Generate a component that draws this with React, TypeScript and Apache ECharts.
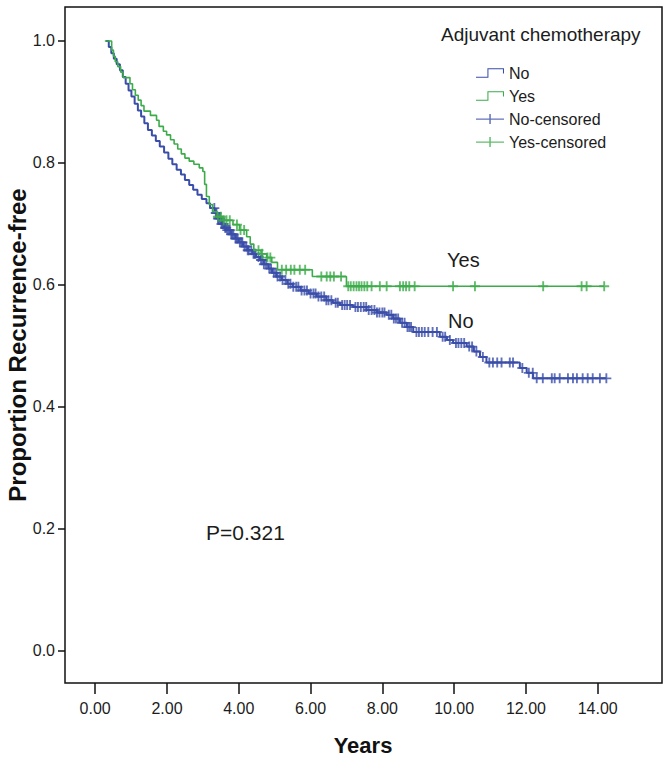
import React, { useEffect, useRef } from "react";
import * as echarts from "echarts";

const groupNames = ["No", "Yes"];
const legendTitle = "Adjuvant chemotherapy";
const xTickValues = [0, 2, 4, 6, 8, 10, 12, 14];
const yTickValues = [0, 0.2, 0.4, 0.6, 0.8, 1.0];
const xTitle = "Years";
const yTitle = "Proportion Recurrence-free";
const pValueText = "P=0.321";

// "No" group: event times (years) and survival after each event
const noTimes = [0.30, 0.38, 0.45, 0.52, 0.60, 0.69, 0.77, 0.85, 0.93, 1.01, 1.10, 1.19, 1.28, 1.37, 1.47, 1.58, 1.69, 1.80, 1.92, 2.04, 2.15, 2.27, 2.39, 2.50, 2.62, 2.73, 2.85, 2.97, 3.10, 3.20, 3.33, 3.42, 3.52, 3.60, 3.66, 3.78, 3.90, 4.00, 4.12, 4.25, 4.38, 4.48, 4.59, 4.70, 4.82, 4.93, 5.05, 5.20, 5.35, 5.50, 5.72, 5.95, 6.17, 6.44, 6.62, 6.82, 7.18, 7.56, 7.85, 8.12, 8.30, 8.49, 8.68, 8.86, 9.60, 9.80, 9.97, 10.35, 10.55, 10.72, 10.90, 11.83, 12.02, 12.20];
const noSurv = [1.000, 0.990, 0.980, 0.971, 0.962, 0.952, 0.941, 0.930, 0.919, 0.909, 0.897, 0.886, 0.876, 0.865, 0.854, 0.845, 0.836, 0.827, 0.817, 0.807, 0.798, 0.789, 0.781, 0.772, 0.764, 0.756, 0.748, 0.741, 0.734, 0.726, 0.718, 0.709, 0.700, 0.694, 0.690, 0.683, 0.676, 0.670, 0.663, 0.657, 0.651, 0.646, 0.641, 0.634, 0.627, 0.620, 0.614, 0.608, 0.602, 0.597, 0.591, 0.586, 0.581, 0.575, 0.571, 0.567, 0.564, 0.559, 0.555, 0.551, 0.545, 0.538, 0.531, 0.523, 0.515, 0.510, 0.505, 0.499, 0.491, 0.482, 0.473, 0.464, 0.456, 0.447];
const noCensorTimes = [3.32, 3.36, 3.38, 3.42, 3.45, 3.49, 3.52, 3.55, 3.58, 3.62, 3.65, 3.68, 3.72, 3.75, 3.79, 3.82, 3.85, 3.91, 3.94, 3.97, 4.03, 4.07, 4.10, 4.16, 4.21, 4.25, 4.28, 4.35, 4.41, 4.44, 4.47, 4.55, 4.62, 4.66, 4.70, 4.76, 4.85, 4.90, 4.98, 5.04, 5.08, 5.15, 5.22, 5.30, 5.38, 5.44, 5.52, 5.60, 5.66, 5.75, 5.83, 5.90, 6.00, 6.08, 6.14, 6.22, 6.30, 6.38, 6.44, 6.50, 6.58, 6.70, 6.76, 6.88, 6.95, 7.02, 7.10, 7.25, 7.32, 7.40, 7.48, 7.55, 7.62, 7.70, 7.78, 7.85, 7.92, 8.00, 8.06, 8.18, 8.25, 8.32, 8.38, 8.44, 8.55, 8.62, 8.70, 8.75, 8.80, 8.95, 9.02, 9.10, 9.18, 9.28, 9.40, 9.52, 9.68, 9.75, 9.88, 10.05, 10.12, 10.20, 10.28, 10.42, 10.50, 10.62, 10.80, 10.98, 11.08, 11.20, 11.32, 11.55, 11.64, 11.90, 12.08, 12.19, 12.30, 12.47, 12.72, 12.80, 12.94, 13.17, 13.31, 13.42, 13.58, 13.72, 13.86, 14.06, 14.24];

// "Yes" group
const yesTimes = [0.27, 0.46, 0.51, 0.56, 0.63, 0.71, 0.78, 0.97, 1.04, 1.12, 1.20, 1.28, 1.36, 1.54, 1.71, 1.78, 1.90, 1.99, 2.10, 2.20, 2.30, 2.40, 2.50, 2.62, 2.75, 2.90, 3.00, 3.05, 3.10, 3.18, 3.27, 3.40, 3.56, 3.84, 4.02, 4.22, 4.32, 4.42, 4.62, 4.78, 4.92, 5.08, 6.05, 7.00];
const yesSurv = [1.000, 0.985, 0.975, 0.966, 0.958, 0.949, 0.940, 0.930, 0.920, 0.911, 0.903, 0.894, 0.885, 0.878, 0.870, 0.860, 0.852, 0.846, 0.838, 0.831, 0.823, 0.815, 0.808, 0.803, 0.798, 0.792, 0.786, 0.765, 0.745, 0.732, 0.720, 0.712, 0.706, 0.699, 0.690, 0.679, 0.667, 0.657, 0.651, 0.645, 0.637, 0.625, 0.614, 0.598];
const yesCensorTimes = [3.42, 3.50, 3.58, 3.66, 3.75, 3.95, 4.05, 4.15, 4.55, 4.65, 4.80, 4.88, 5.20, 5.32, 5.45, 5.55, 5.70, 5.85, 6.30, 6.45, 6.55, 6.65, 6.85, 7.05, 7.12, 7.20, 7.28, 7.35, 7.42, 7.50, 7.58, 7.70, 7.93, 8.12, 8.49, 8.58, 8.66, 8.75, 8.90, 9.97, 10.58, 12.48, 13.55, 13.69, 14.18];

const BLUE = "#3a4ea9";
const GREEN = "#3cab4a";
const TEXT = "#1c1c1c";
const FONT = "'Liberation Sans', Arial, sans-serif";

const stepIcon = "path://M0,9h11v-8h16v5h-1v-4h-14v8h-12z";
const plusIcon = "path://M0,4.4h28v1.3h-28z M13.3,0h1.5v10h-1.5z";
const censorSymbol = "path://M0,3.3h8v1.5h-8z M3.25,0h1.5v8h-1.5z";

function survivalAt(times: number[], surv: number[], t: number): number {
  let s = surv[0];
  for (let i = 0; i < times.length; i++) {
    if (times[i] <= t) s = surv[i];
  }
  return s;
}

function stepLine(times: number[], surv: number[], censors: number[]) {
  const pts: number[][] = times.map((t, i) => [t, surv[i]]);
  const end = censors[censors.length - 1];
  pts.push([end, survivalAt(times, surv, end)]);
  return pts;
}

function censorPoints(times: number[], surv: number[], censors: number[]) {
  return censors.map((t) => [t, survivalAt(times, surv, t)]);
}

export default function App() {
  const ref = useRef<HTMLDivElement>(null);
  useEffect(() => {
    if (!ref.current) return;
    const chart = echarts.init(ref.current, undefined, { renderer: "svg" });
    const option: any = {
      animation: false,
      backgroundColor: "#ffffff",
      textStyle: { fontFamily: FONT },
      grid: {
        left: 65,
        top: 7,
        right: 9,
        bottom: 77,
        show: true,
        borderColor: "#111",
        borderWidth: 1.5,
        backgroundColor: "transparent",
        outerBoundsMode: "none",
      },
      xAxis: {
        type: "value",
        min: -0.84,
        max: 15.79,
        axisLine: { show: false, onZero: false },
        splitLine: { show: false },
        axisTick: {
          show: true,
          customValues: xTickValues,
          length: 11,
          lineStyle: { color: "#111", width: 1.5 },
        },
        axisLabel: {
          customValues: xTickValues,
          formatter: (v: number) => v.toFixed(2),
          fontSize: 16,
          color: TEXT,
          margin: 17,
          fontFamily: FONT,
        },
      },
      yAxis: {
        type: "value",
        min: -0.0525,
        max: 1.0557,
        axisLine: { show: false, onZero: false },
        splitLine: { show: false },
        axisTick: {
          show: true,
          customValues: yTickValues,
          length: 7,
          lineStyle: { color: "#111", width: 1.5 },
        },
        axisLabel: {
          customValues: yTickValues,
          formatter: (v: number) => v.toFixed(1),
          fontSize: 16,
          color: TEXT,
          margin: 10,
          fontFamily: FONT,
        },
      },
      legend: {
        orient: "vertical",
        left: 471,
        top: 60,
        itemWidth: 28,
        itemHeight: 10,
        itemGap: 7,
        itemStyle: { borderWidth: 0 },
        textStyle: { fontSize: 16, color: TEXT, fontFamily: FONT },
        data: [
          { name: groupNames[0], icon: stepIcon },
          { name: groupNames[1], icon: stepIcon },
          { name: groupNames[0] + "-censored", icon: plusIcon },
          { name: groupNames[1] + "-censored", icon: plusIcon },
        ],
      },
      graphic: [
        {
          type: "text",
          left: 441,
          top: 25,
          style: { text: legendTitle, fontSize: 19, fill: TEXT, fontFamily: FONT },
        },
        {
          type: "text",
          x: 363,
          y: 745,
          style: { text: xTitle, fontSize: 22, fontWeight: "bold", fill: "#111", fontFamily: FONT, align: "center", verticalAlign: "middle" },
        },
        {
          type: "text",
          x: 17,
          y: 345,
          rotation: Math.PI / 2,
          style: { text: yTitle, fontSize: 24, fontWeight: "bold", fill: "#111", fontFamily: FONT, align: "center", verticalAlign: "middle" },
        },
        {
          type: "text",
          x: 206,
          y: 532,
          style: { text: pValueText, fontSize: 21, fill: TEXT, fontFamily: FONT, align: "left", verticalAlign: "middle" },
        },
        {
          type: "text",
          x: 447,
          y: 260,
          style: { text: groupNames[1], fontSize: 20, fill: TEXT, fontFamily: FONT, align: "left", verticalAlign: "middle" },
        },
        {
          type: "text",
          x: 448,
          y: 321,
          style: { text: groupNames[0], fontSize: 20, fill: TEXT, fontFamily: FONT, align: "left", verticalAlign: "middle" },
        },
      ],
      series: [
        {
          name: groupNames[0],
          type: "line",
          step: "end",
          showSymbol: false,
          symbol: "none",
          color: BLUE,
          lineStyle: { color: BLUE, width: 2 },
          data: stepLine(noTimes, noSurv, noCensorTimes),
          z: 2,
        },
        {
          name: groupNames[0] + "-censored",
          type: "scatter",
          symbol: censorSymbol,
          symbolSize: 10,
          color: BLUE,
          itemStyle: { color: BLUE },
          data: censorPoints(noTimes, noSurv, noCensorTimes),
          z: 3,
        },
        {
          name: groupNames[1],
          type: "line",
          step: "end",
          showSymbol: false,
          symbol: "none",
          color: GREEN,
          lineStyle: { color: GREEN, width: 1.6 },
          data: stepLine(yesTimes, yesSurv, yesCensorTimes),
          z: 4,
        },
        {
          name: groupNames[1] + "-censored",
          type: "scatter",
          symbol: censorSymbol,
          symbolSize: 10,
          color: GREEN,
          itemStyle: { color: GREEN },
          data: censorPoints(yesTimes, yesSurv, yesCensorTimes),
          z: 5,
        },
      ],
    };
    chart.setOption(option);
    return () => chart.dispose();
  }, []);
  return <div ref={ref} style={{ width: 671, height: 760, position: "absolute", left: 0, top: 0 }} />;
}
